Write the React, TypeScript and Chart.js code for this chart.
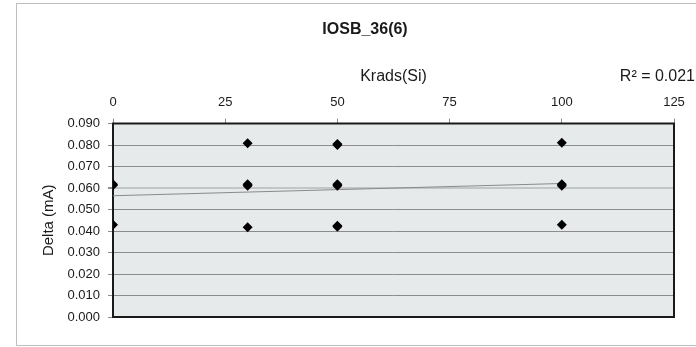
import React, { useEffect, useRef } from "react";
import { Chart, registerables } from "chart.js";

Chart.register(...registerables);

// ---- data ----
const chartTitle = "IOSB_36(6)";
const xAxisTitle = "Krads(Si)";
const yAxisTitle = "Delta (mA)";
const r2Label = "R² = 0.021";

const xTickValues = [0, 25, 50, 75, 100, 125];
const yTickValues = [0, 0.01, 0.02, 0.03, 0.04, 0.05, 0.06, 0.07, 0.08, 0.09];

const doseKrads = [0, 0, 0, 30, 30, 30, 30, 50, 50, 50, 50, 50, 50, 100, 100, 100, 100];
const deltaMA = [
  0.0613, 0.0617, 0.0429,
  0.0808, 0.0611, 0.0617, 0.0418,
  0.0800, 0.0805, 0.0611, 0.0618, 0.0420, 0.0425,
  0.0810, 0.0610, 0.0618, 0.0429,
];

const trendX = [0, 100];
const trendY = [0.0564, 0.0621];

const FONT = "'Liberation Sans', Arial, sans-serif";

export default function App() {
  const ref = useRef<HTMLCanvasElement | null>(null);

  useEffect(() => {
    document.body.style.margin = "0";
    const canvas = ref.current;
    if (!canvas) return;

    const decor = {
      id: "decor",
      beforeDraw(chart: any) {
        const { ctx, chartArea: a, width, height } = chart;
        ctx.save();
        ctx.fillStyle = "#ffffff";
        ctx.fillRect(0, 0, width, height);
        ctx.strokeStyle = "#bfbfbf";
        ctx.lineWidth = 1;
        ctx.strokeRect(16.5, 3.5, width + 20, 342);
        ctx.fillStyle = "#e6eaea";
        ctx.fillRect(a.left, a.top, a.right - a.left, a.bottom - a.top);
        ctx.restore();
      },
      beforeDatasetsDraw(chart: any) {
        const { ctx, chartArea: a } = chart;
        ctx.save();
        ctx.strokeStyle = "#1a1a1a";
        ctx.lineWidth = 2;
        ctx.strokeRect(a.left, a.top, a.right - a.left, a.bottom - a.top);
        ctx.restore();
      },
      afterDraw(chart: any) {
        const { ctx, width } = chart;
        ctx.save();
        ctx.fillStyle = "#1a1a1a";
        ctx.font = `16px ${FONT}`;
        ctx.textAlign = "right";
        ctx.textBaseline = "middle";
        ctx.fillText(r2Label, width - 1, 77);
        ctx.restore();
      },
    };

    const chart = new Chart(canvas, {
      type: "scatter",
      data: {
        datasets: [
          {
            label: "Delta",
            data: doseKrads.map((x, i) => ({ x, y: deltaMA[i] })),
            pointStyle: "rectRot",
            pointRadius: 5,
            pointBackgroundColor: "#000000",
            pointBorderColor: "#000000",
            pointBorderWidth: 0,
            showLine: false,
          },
          {
            label: "Trend",
            type: "line",
            data: trendX.map((x, i) => ({ x, y: trendY[i] })),
            borderColor: "#8a8a8a",
            borderWidth: 1,
            pointRadius: 0,
            fill: false,
          },
        ],
      },
      options: {
        animation: false,
        responsive: false,
        devicePixelRatio: 1,
        layout: { padding: { left: 34, right: 0, top: 20, bottom: 30 } },
        plugins: {
          legend: { display: false },
          tooltip: { enabled: false },
          title: {
            display: true,
            text: chartTitle,
            color: "#1a1a1a",
            font: { family: FONT, size: 16, weight: "bold" },
            padding: { top: 0, bottom: 10 },
          },
        },
        scales: {
          x: {
            type: "linear",
            position: "top",
            min: 0,
            max: 125,
            afterBuildTicks: (s: any) => {
              s.ticks = xTickValues.map((v) => ({ value: v }));
            },
            afterFit: (s: any) => {
              s.height = 74.3;
            },
            ticks: {
              color: "#1a1a1a",
              font: { family: FONT, size: 13 },
              padding: 8,
              maxRotation: 0,
              callback: (v: any) => String(v),
            },
            grid: {
              drawOnChartArea: false,
              drawTicks: true,
              tickLength: 5,
              color: "#8c8c8c",
            },
            border: { display: false },
            title: {
              display: true,
              text: xAxisTitle,
              color: "#1a1a1a",
              font: { family: FONT, size: 16 },
              padding: { top: 18.2, bottom: 0 },
            },
          },
          y: {
            type: "linear",
            position: "left",
            min: 0,
            max: 0.09,
            afterBuildTicks: (s: any) => {
              s.ticks = yTickValues.map((v) => ({ value: v }));
            },
            afterFit: (s: any) => {
              s.width = 79;
            },
            ticks: {
              color: "#1a1a1a",
              font: { family: FONT, size: 13 },
              padding: 8,
              callback: (v: any) => Number(v).toFixed(3),
            },
            grid: {
              drawTicks: true,
              tickLength: 5,
              tickColor: "#8c8c8c",
              color: (c: any) =>
                c.tick && Math.abs(c.tick.value - 0.06) < 1e-9 ? "#c2c6c6" : "#8c8c8c",
              lineWidth: (c: any) =>
                c.tick && Math.abs(c.tick.value - 0.06) < 1e-9 ? 2 : 1,
            },
            border: { display: false },
            title: {
              display: true,
              text: yAxisTitle,
              color: "#1a1a1a",
              font: { family: FONT, size: 15 },
              padding: { top: 6, bottom: 0 },
            },
          },
          y2: {
            type: "linear",
            position: "right",
            display: true,
            afterFit: (s: any) => {
              s.width = 22;
            },
            ticks: { display: false },
            grid: { display: false, drawTicks: false },
            border: { display: false },
            title: { display: false },
          },
        },
      },
      plugins: [decor],
    } as any);

    return () => chart.destroy();
  }, []);

  return (
    <div style={{ width: 696, height: 347 }}>
      <canvas ref={ref} width={696} height={347} style={{ display: "block", width: 696, height: 347 }} />
    </div>
  );
}
